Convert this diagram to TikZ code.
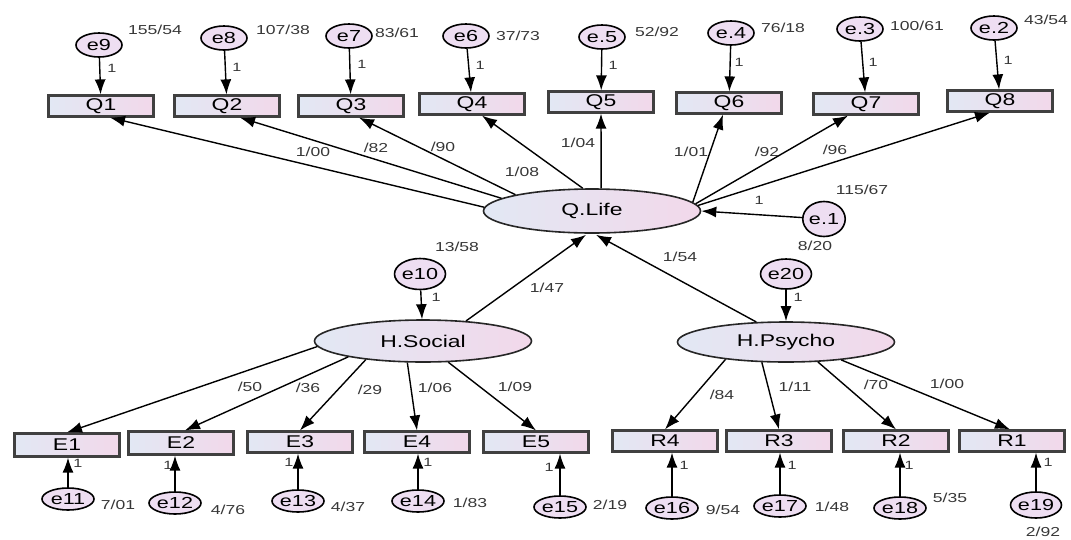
\documentclass[tikz,border=0pt]{standalone}
\usepackage{fontspec}
\setmainfont{Liberation Sans}[FakeStretch=1.35]
\usetikzlibrary{arrows.meta,shapes.geometric,calc}
\definecolor{boxL}{RGB}{226,232,244}
\definecolor{boxR}{RGB}{242,216,234}
\definecolor{errF}{RGB}{238,222,242}
\definecolor{lblC}{RGB}{55,55,55}
\newcommand{\fsz}[1]{\fontsize{#1}{#1}\selectfont}
\begin{document}
\begin{tikzpicture}[x=1pt,y=-1pt,
 obs/.style={rectangle,draw=black!75,line width=2.2pt,minimum width=105pt,minimum height=21pt,inner sep=0pt,left color=boxL,right color=boxR,font=\fsz{17}},
 lat/.style={ellipse,draw=black!85,line width=1.6pt,minimum width=217pt,minimum height=42pt,inner sep=0pt,left color=boxL,right color=boxR,font=\fsz{17}},
 err/.style={ellipse,draw=black,line width=1.6pt,minimum width=46pt,minimum height=24pt,inner sep=0pt,fill=errF,font=\fsz{16}},
 errb/.style={err,minimum width=52pt,minimum height=22pt},
 lbl/.style={font=\fsz{13},text=lblC,inner sep=0pt},
 one/.style={font=\fsz{12},text=lblC,inner sep=0pt},
 arr/.style={-{Latex[length=15pt,width=11pt]},line width=1.4pt}]
\useasboundingbox (0,0) rectangle (1071,539);

% Q boxes
\node[obs] (Q1) at (101,106) {Q1};
\node[obs] (Q2) at (227,106) {Q2};
\node[obs] (Q3) at (351,106) {Q3};
\node[obs] (Q4) at (472,104) {Q4};
\node[obs] (Q5) at (601,102) {Q5};
\node[obs] (Q6) at (729,103) {Q6};
\node[obs] (Q7) at (866,104) {Q7};
\node[obs] (Q8) at (1000,101) {Q8};

% top errors
\node[err] (e9) at (99,45) {e9};
\node[err] (e8) at (224,38) {e8};
\node[err] (e7) at (349,36) {e7};
\node[err] (e6) at (466,36) {e6};
\node[err] (e5) at (602,37) {e.5};
\node[err] (e4) at (731,33) {e.4};
\node[err] (e3) at (860,29) {e.3};
\node[err] (e2) at (994,28) {e.2};

\node[lbl] (v9) at (155,30) {155/54};
\node[lbl] (v8) at (283,30) {107/38};
\node[lbl] (v7) at (397,33) {83/61};
\node[lbl] (v6) at (518,36) {37/73};
\node[lbl] (v5) at (657,32) {52/92};
\node[lbl] (v4) at (783,28) {76/18};
\node[lbl] (v3) at (917,26) {100/61};
\node[lbl] (v2) at (1046,20) {43/54};

\foreach \e/\q in {e9/Q1,e8/Q2,e7/Q3,e6/Q4,e5/Q5,e4/Q6,e3/Q7,e2/Q8}
  \draw[arr] (\e) -- (\q);
\node[one] (o9) at (112,68) {1};
\node[one] (o8) at (237,67) {1};
\node[one] (o7) at (362,64) {1};
\node[one] (o6) at (480,65) {1};
\node[one] (o5) at (613,65) {1};
\node[one] (o4) at (739,62) {1};
\node[one] (o3) at (873,62) {1};
\node[one] (o2) at (1008,60) {1};

% latent
\node[lat,minimum height=44pt] (QL) at (592,211) {Q.Life};
\node[lat] (HS) at (423,341) {H.Social};
\node[lat,minimum height=40pt] (HP) at (786,342) {H.Psycho};

\node[err,minimum width=42pt,minimum height=35pt] (e1) at (824,219) {e.1};
\node[err,minimum width=46pt,minimum height=31pt] (e10) at (420,274) {e10};
\node[err,minimum width=46pt,minimum height=30pt] (e20) at (786,274) {e20};

% QL -> Q
\draw[arr] (QL.178) -- ($(Q1.south)+(9,0)$);
\draw[arr] (QL.172) -- ($(Q2.south)+(13,0)$);
\draw[arr] (QL.168) -- ($(Q3.south)+(8,0)$);
\draw[arr] (QL.112) -- ($(Q4.south)+(10,0)$);
\draw[arr] (QL.68) -- (Q5.south);
\draw[arr] (QL.5) -- ($(Q6.south)+(-6,0)$);
\draw[arr] (QL.4) -- ($(Q7.south)+(-18,0)$);
\draw[arr] (QL.3) -- ($(Q8.south)+(-10,0)$);
\draw[arr] (e1) -- (QL.east);

\node[lbl] (p1) at (313,152) {1/00};
\node[lbl] (p2) at (376,148) {/82};
\node[lbl] (p3) at (443,147) {/90};
\node[lbl] (p4) at (522,172) {1/08};
\node[lbl] (p5) at (578,143) {1/04};
\node[lbl] (p6) at (691,152) {1/01};
\node[lbl] (p7) at (767,152) {/92};
\node[lbl] (p8) at (835,150) {/96};
\node[one] (o1) at (759,200) {1};
\node[lbl] (v1) at (862,190) {115/67};
\node[lbl] (v20) at (815,246) {8/20};
\node[lbl] (v10) at (457,247) {13/58};

% HS, HP -> QL
\draw[arr] (HS.25) -- ($(QL.south)+(-6,1)$);
\draw[arr] (HP.146) -- ($(QL.south)+(4,1)$);
\node[lbl] (h1) at (547,288) {1/47};
\node[lbl] (h2) at (680,257) {1/54};
\draw[arr] (e10) -- (HS);
\draw[arr] (e20) -- (HP);
\node[one] (o10) at (436,297) {1};
\node[one] (o20) at (798,297) {1};

% bottom boxes
\node[obs,minimum height=23pt] (E1) at (67,445) {E1};
\node[obs,minimum height=23pt] (E2) at (181,443) {E2};
\node[obs] (E3) at (300,442) {E3};
\node[obs] (E4) at (417,442) {E4};
\node[obs] (E5) at (536,442) {E5};
\node[obs] (R4) at (665,441) {R4};
\node[obs] (R3) at (779,441) {R3};
\node[obs] (R2) at (896,441) {R2};
\node[obs] (R1) at (1012,441) {R1};

\draw[arr] (HS.183) -- (E1.north);
\draw[arr] (HS.192) -- ($(E2.north)+(4,0)$);
\draw[arr] (HS.198) -- (E3.north);
\draw[arr] (HS.234) -- (E4.north);
\draw[arr] (HS.320) -- (E5.north);
\draw[arr] (HP.196) -- (R4.north);
\draw[arr] (HP.220) -- (R3.north);
\draw[arr] (HP.328) -- (R2.north);
\draw[arr] (HP.342) -- ($(R1.north)+(-2,0)$);

\node[lbl] (s1) at (250,387) {/50};
\node[lbl] (s2) at (308,388) {/36};
\node[lbl] (s3) at (370,390) {/29};
\node[lbl] (s4) at (435,388) {1/06};
\node[lbl] (s5) at (515,387) {1/09};
\node[lbl] (r4) at (722,395) {/84};
\node[lbl] (r3) at (795,387) {1/11};
\node[lbl] (r2) at (876,385) {/70};
\node[lbl] (r1) at (947,384) {1/00};

% bottom errors
\node[errb] (e11) at (68,499) {e11};
\node[errb] (e12) at (175,503) {e12};
\node[errb] (e13) at (298,501) {e13};
\node[errb] (e14) at (418,501) {e14};
\node[errb] (e15) at (560,507) {e15};
\node[errb] (e16) at (672,508) {e16};
\node[errb] (e17) at (780,506) {e17};
\node[errb] (e18) at (900,508) {e18};
\node[errb,minimum width=48pt,minimum height=26pt] (e19) at (1036,505) {e19};

\foreach \e/\b in {e11/E1,e12/E2,e13/E3,e14/E4,e15/E5,e16/R4,e17/R3,e18/R2,e19/R1}
  \draw[arr] (\e) -- (\e |- \b.south);

\node[one] (b1) at (78,463) {1};
\node[one] (b2) at (168,465) {1};
\node[one] (b3) at (289,462) {1};
\node[one] (b4) at (428,462) {1};
\node[one] (b5) at (549,467) {1};
\node[one] (b6) at (684,465) {1};
\node[one] (b7) at (792,465) {1};
\node[one] (b8) at (909,465) {1};
\node[one] (b9) at (1048,462) {1};

\node[lbl] (w11) at (118,505) {7/01};
\node[lbl] (w12) at (228,510) {4/76};
\node[lbl] (w13) at (348,507) {4/37};
\node[lbl] (w14) at (470,503) {1/83};
\node[lbl] (w15) at (610,505) {2/19};
\node[lbl] (w16) at (723,510) {9/54};
\node[lbl] (w17) at (832,507) {1/48};
\node[lbl] (w18) at (950,498) {5/35};
\node[lbl] (w19) at (1043,532) {2/92};
\end{tikzpicture}
\end{document}
